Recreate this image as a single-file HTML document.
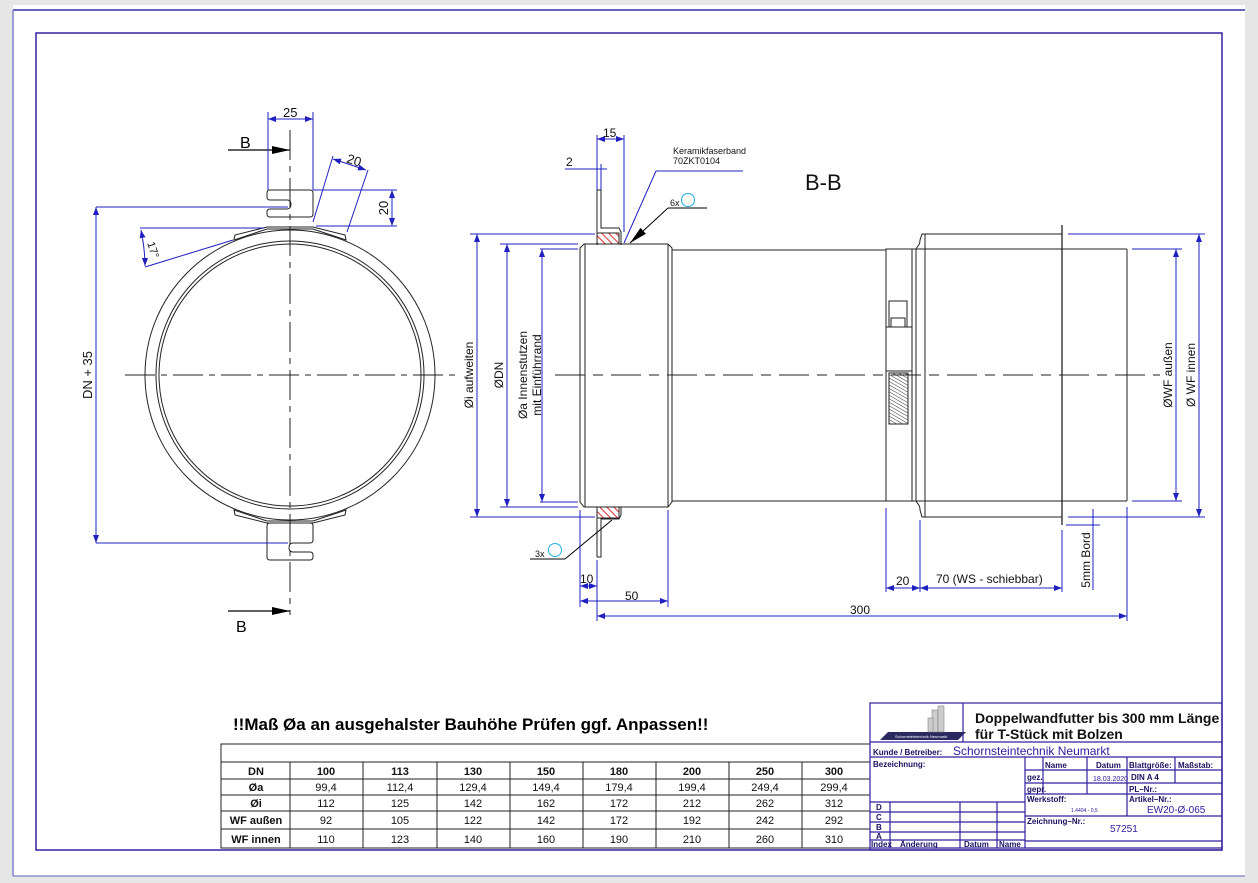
<!DOCTYPE html>
<html><head><meta charset="utf-8"><style>
html,body{margin:0;padding:0;background:#e6e6e6;}
svg{display:block;font-family:"Liberation Sans",Arial,sans-serif;}
</style></head><body>
<svg width="1258" height="883" viewBox="0 0 1258 883" xmlns="http://www.w3.org/2000/svg">
<defs>
<pattern id="hr" width="5" height="5" patternUnits="userSpaceOnUse" patternTransform="rotate(-45)"><rect width="5" height="5" fill="#fff"/><line x1="0" y1="0" x2="0" y2="5" stroke="#e03030" stroke-width="2"/></pattern>
<pattern id="hk" width="3" height="3" patternUnits="userSpaceOnUse" patternTransform="rotate(-60)"><line x1="0" y1="0" x2="0" y2="3" stroke="#333" stroke-width="1"/></pattern>
<marker id="a" markerWidth="8" markerHeight="6" refX="8" refY="3" orient="auto-start-reverse" markerUnits="userSpaceOnUse"><path d="M0,0 L8,3 L0,6z" fill="#2020c0"/></marker>
<marker id="ab" markerWidth="18" markerHeight="8" refX="18" refY="4" orient="auto" markerUnits="userSpaceOnUse"><path d="M0,0 L18,4 L0,8z" fill="#000"/></marker>
</defs>
<rect x="0" y="0" width="1258" height="883" fill="#e6e6e6"/>
<rect x="13" y="5" width="1232" height="871" fill="#fff"/>
<line x1="13" y1="10" x2="1245" y2="10" stroke="#3030a0" stroke-width="1.5"/>
<line x1="13" y1="10" x2="13" y2="876" stroke="#8080d0" stroke-width="1.5"/>
<line x1="13" y1="876" x2="1245" y2="876" stroke="#6060c0" stroke-width="1"/>
<rect x="36" y="33" width="1186" height="817" fill="none" stroke="#3020a0" stroke-width="1.5"/>

<!-- LEFT VIEW -->
<g stroke="#222" fill="none" stroke-width="1">
<circle cx="290" cy="375" r="145"/>
<circle cx="290" cy="375" r="134"/>
<circle cx="290" cy="375" r="131"/>
<path d="M270,190 h40 q3,0 3,3 v21 q0,3 -3,3 h-40 q-3,0 -3,-3 v-2 q0,-3 3,-3 h17 q4,0 4,-5 q0,-4 -4,-4 h-17 q-3,0 -3,-3 v-4 q0,-3 3,-3z" fill="#fff"/>
<path d="M234,240 L267,229 L313,229 L346,240 L345,235 L313,227 L267,227 L235,235z" fill="#fff"/>
<path d="M270,560 h40 q3,0 3,-3 v-2 q0,-3 -3,-3 h-17 q-4,0 -4,-4 q0,-5 4,-5 h17 q3,0 3,-3 v-14 q0,-3 -3,-3 h-40 q-3,0 -3,3 v31 q0,3 3,3z" fill="#fff"/>
<path d="M234,510 L267,521 L313,521 L346,510 L345,515 L313,523 L267,523 L235,515z" fill="#fff"/>
<line x1="125" y1="375" x2="455" y2="375" stroke-dasharray="30,6,6,6"/>
<line x1="290" y1="130" x2="290" y2="615" stroke-dasharray="30,6,6,6"/>
</g>
<g stroke="#000" stroke-width="1.2">
<line x1="228" y1="150" x2="290" y2="150" marker-end="url(#ab)"/>
<line x1="228" y1="611" x2="290" y2="611" marker-end="url(#ab)"/>
</g>
<text x="240" y="148" font-size="16">B</text>
<text x="236" y="632" font-size="16">B</text>
<g stroke="#2020c0" fill="none" stroke-width="1">
<line x1="268" y1="112" x2="268" y2="190"/><line x1="313" y1="112" x2="313" y2="190"/>
<line x1="268" y1="119" x2="313" y2="119" marker-start="url(#a)" marker-end="url(#a)"/>
<line x1="96" y1="207" x2="288" y2="207"/><line x1="96" y1="543" x2="288" y2="543"/>
<line x1="96" y1="207" x2="96" y2="543" marker-start="url(#a)" marker-end="url(#a)"/>
<line x1="313" y1="190" x2="397" y2="190"/><line x1="316" y1="226" x2="397" y2="226"/>
<line x1="392" y1="190" x2="392" y2="226" marker-start="url(#a)" marker-end="url(#a)"/>
<line x1="313" y1="222" x2="333" y2="156"/><line x1="347" y1="232" x2="368" y2="170"/>
<line x1="333" y1="159" x2="366" y2="170" marker-start="url(#a)" marker-end="url(#a)"/>
<line x1="140" y1="228" x2="264" y2="228"/><line x1="145" y1="267" x2="233" y2="240"/>
<path d="M141,230 Q145,250 145,266" marker-start="url(#a)" marker-end="url(#a)"/>
</g>
<g font-size="13" fill="#111">
<text x="283" y="117">25</text>
<text x="347" y="165" transform="rotate(18 355 160)">20</text>
<text x="388" y="208" transform="rotate(-90 388 208)" text-anchor="middle">20</text>
<text x="145" y="246" transform="rotate(72 148 246)" font-size="11">17°</text>
<text x="92" y="375" transform="rotate(-90 92 375)" text-anchor="middle">DN + 35</text>
</g>

<!-- SECTION VIEW -->
<g stroke="#222" fill="none" stroke-width="1">
<path d="M580,248 L584,244 L668,244 L672,248 L672,502 L668,507 L584,507 L580,502z" fill="#fff"/>
<line x1="585" y1="244" x2="585" y2="507"/>
<line x1="668" y1="244" x2="668" y2="507"/>
<line x1="672" y1="250" x2="886" y2="250"/><line x1="672" y1="501" x2="886" y2="501"/>
<rect x="886" y="249" width="30" height="252"/>
<line x1="912" y1="249" x2="912" y2="501"/>
<path d="M916,249 L918,246 Q920,244 920,240 L922,234 L1062,234 M916,501 L918,504 Q920,506 920,510 L922,517 L1062,517"/>
<line x1="925" y1="234" x2="925" y2="517"/>
<line x1="916" y1="249" x2="1127" y2="249"/><line x1="916" y1="501" x2="1127" y2="501"/>
<line x1="1127" y1="249" x2="1127" y2="501"/>
<line x1="1062" y1="225" x2="1062" y2="525" stroke-width="1.3"/>
<rect x="889" y="301" width="18" height="26" fill="#fff"/>
<rect x="891" y="318" width="14" height="9" fill="#fff"/>
<rect x="886" y="327" width="26" height="44" fill="#fff"/>
<rect x="889" y="373" width="19" height="51" fill="url(#hk)"/>
<path d="M597,190 h4 v38 h18 l2,4 v13 M597,190 v55" />
<path d="M597,557 h4 v-38 h18 l2,-4 v-8 M597,557 v-50" />
<line x1="555" y1="375" x2="1160" y2="375" stroke-dasharray="30,8,10,8"/>
</g>
<rect x="597" y="233" width="22" height="11" fill="url(#hr)" stroke="#222"/>
<rect x="597" y="507" width="22" height="11" fill="url(#hr)" stroke="#222"/>
<g stroke="#2020c0" fill="none" stroke-width="1">
<line x1="597" y1="135" x2="597" y2="190"/><line x1="624" y1="135" x2="624" y2="232"/>
<line x1="597" y1="139" x2="624" y2="139" marker-start="url(#a)" marker-end="url(#a)"/>
<line x1="565" y1="169" x2="607" y2="169"/><line x1="601" y1="164" x2="601" y2="190"/>
<line x1="624" y1="243" x2="656" y2="171" /><line x1="656" y1="171" x2="743" y2="171"/>
<line x1="470" y1="234" x2="595" y2="234"/><line x1="470" y1="517" x2="595" y2="517"/>
<line x1="477" y1="234" x2="477" y2="517" marker-start="url(#a)" marker-end="url(#a)"/>
<line x1="500" y1="244" x2="578" y2="244"/><line x1="500" y1="507" x2="578" y2="507"/>
<line x1="507" y1="244" x2="507" y2="507" marker-start="url(#a)" marker-end="url(#a)"/>
<line x1="540" y1="249" x2="578" y2="249"/><line x1="540" y1="502" x2="578" y2="502"/>
<line x1="542" y1="249" x2="542" y2="502" marker-start="url(#a)" marker-end="url(#a)"/>
<line x1="1068" y1="234" x2="1205" y2="234"/><line x1="1068" y1="517" x2="1205" y2="517"/>
<line x1="1199" y1="234" x2="1199" y2="517" marker-start="url(#a)" marker-end="url(#a)"/>
<line x1="1132" y1="249" x2="1182" y2="249"/><line x1="1132" y1="501" x2="1182" y2="501"/>
<line x1="1176" y1="249" x2="1176" y2="501" marker-start="url(#a)" marker-end="url(#a)"/>
<line x1="1066" y1="525" x2="1100" y2="525"/>
<line x1="1093" y1="509" x2="1093" y2="590"/>
<line x1="580" y1="510" x2="580" y2="607"/><line x1="597" y1="560" x2="597" y2="621"/>
<line x1="580" y1="586" x2="597" y2="586" marker-start="url(#a)" marker-end="url(#a)"/>
<line x1="668" y1="510" x2="668" y2="607"/>
<line x1="580" y1="601" x2="668" y2="601" marker-start="url(#a)" marker-end="url(#a)"/>
<line x1="1127" y1="507" x2="1127" y2="621"/>
<line x1="597" y1="616" x2="1127" y2="616" marker-start="url(#a)" marker-end="url(#a)"/>
<line x1="886" y1="508" x2="886" y2="592"/><line x1="920" y1="520" x2="920" y2="592"/><line x1="1062" y1="530" x2="1062" y2="592"/>
<line x1="886" y1="588" x2="920" y2="588" marker-start="url(#a)" marker-end="url(#a)"/>
<line x1="920" y1="588" x2="1062" y2="588" marker-start="url(#a)" marker-end="url(#a)"/>
</g>
<g stroke="#000" fill="none" stroke-width="1">
<line x1="668" y1="208" x2="707" y2="208"/><line x1="668" y1="208" x2="630" y2="243" marker-end="url(#ab)"/>
<line x1="530" y1="559" x2="565" y2="559"/><line x1="565" y1="559" x2="612" y2="520"/>
</g>
<circle cx="688" cy="200" r="6.5" fill="none" stroke="#20b0e0"/>
<circle cx="555" cy="550" r="6.5" fill="none" stroke="#20b0e0"/>
<g font-size="12" fill="#111">
<text x="603" y="137">15</text>
<text x="566" y="166">2</text>
<text x="673" y="154" font-size="9">Keramikfaserband</text>
<text x="673" y="164" font-size="9">70ZKT0104</text>
<text x="670" y="206" font-size="9">6x</text>
<text x="535" y="557" font-size="9">3x</text>
<text x="805" y="190" font-size="22">B-B</text>
<text x="580" y="583">10</text>
<text x="625" y="600">50</text>
<text x="850" y="614">300</text>
<text x="896" y="585">20</text>
<text x="936" y="583">70 (WS - schiebbar)</text>
<text x="1090" y="560" transform="rotate(-90 1090 560)" text-anchor="middle">5mm Bord</text>
<text x="473" y="375" transform="rotate(-90 473 375)" text-anchor="middle">Øi aufweiten</text>
<text x="503" y="375" transform="rotate(-90 503 375)" text-anchor="middle">ØDN</text>
<text x="527" y="375" transform="rotate(-90 527 375)" text-anchor="middle">Øa Innenstutzen</text>
<text x="541" y="375" transform="rotate(-90 541 375)" text-anchor="middle">mit Einführrand</text>
<text x="1172" y="375" transform="rotate(-90 1172 375)" text-anchor="middle">ØWF außen</text>
<text x="1195" y="375" transform="rotate(-90 1195 375)" text-anchor="middle">Ø WF innen</text>
</g>

<!-- TABLE -->
<text x="233" y="730" font-size="17" font-weight="bold">!!Maß Øa an ausgehalster Bauhöhe Prüfen ggf. Anpassen!!</text>
<g stroke="#222" fill="none" stroke-width="1">
<rect x="221" y="744" width="649" height="104"/>
<line x1="221" y1="762" x2="870" y2="762"/><line x1="221" y1="779" x2="870" y2="779"/>
<line x1="221" y1="795" x2="870" y2="795"/><line x1="221" y1="811" x2="870" y2="811"/>
<line x1="221" y1="829" x2="870" y2="829"/>
<line x1="290" y1="762" x2="290" y2="848"/><line x1="363" y1="762" x2="363" y2="848"/>
<line x1="437" y1="762" x2="437" y2="848"/><line x1="510" y1="762" x2="510" y2="848"/>
<line x1="583" y1="762" x2="583" y2="848"/><line x1="656" y1="762" x2="656" y2="848"/>
<line x1="729" y1="762" x2="729" y2="848"/><line x1="802" y1="762" x2="802" y2="848"/>
</g>
<g font-size="11" text-anchor="middle" fill="#111">
<g font-weight="bold"><text x="256" y="775">DN</text><text x="256" y="791">Øa</text><text x="256" y="807">Øi</text><text x="256" y="824">WF außen</text><text x="256" y="843">WF innen</text>
<text x="326" y="775">100</text><text x="400" y="775">113</text><text x="473" y="775">130</text><text x="546" y="775">150</text><text x="619" y="775">180</text><text x="692" y="775">200</text><text x="765" y="775">250</text><text x="834" y="775">300</text></g>
<text x="326" y="791">99,4</text><text x="400" y="791">112,4</text><text x="473" y="791">129,4</text><text x="546" y="791">149,4</text><text x="619" y="791">179,4</text><text x="692" y="791">199,4</text><text x="765" y="791">249,4</text><text x="834" y="791">299,4</text>
<text x="326" y="807">112</text><text x="400" y="807">125</text><text x="473" y="807">142</text><text x="546" y="807">162</text><text x="619" y="807">172</text><text x="692" y="807">212</text><text x="765" y="807">262</text><text x="834" y="807">312</text>
<text x="326" y="824">92</text><text x="400" y="824">105</text><text x="473" y="824">122</text><text x="546" y="824">142</text><text x="619" y="824">172</text><text x="692" y="824">192</text><text x="765" y="824">242</text><text x="834" y="824">292</text>
<text x="326" y="843">110</text><text x="400" y="843">123</text><text x="473" y="843">140</text><text x="546" y="843">160</text><text x="619" y="843">190</text><text x="692" y="843">210</text><text x="765" y="843">260</text><text x="834" y="843">310</text>
</g>

<!-- TITLE BLOCK -->
<g stroke="#3020a0" fill="none" stroke-width="1.2">
<rect x="870" y="703" width="352" height="147"/>
<line x1="963" y1="703" x2="963" y2="742"/>
<line x1="870" y1="742" x2="1222" y2="742"/><line x1="870" y1="757" x2="1222" y2="757"/>
<line x1="1025" y1="757" x2="1025" y2="848"/>
<line x1="1025" y1="770" x2="1222" y2="770"/>
<line x1="1025" y1="783" x2="1222" y2="783"/>
<line x1="1025" y1="794" x2="1222" y2="794"/>
<line x1="1043" y1="757" x2="1043" y2="794"/><line x1="1087" y1="757" x2="1087" y2="794"/>
<line x1="1127" y1="757" x2="1127" y2="816"/><line x1="1175" y1="757" x2="1175" y2="783"/>
<line x1="1025" y1="816" x2="1222" y2="816"/><line x1="1025" y1="841" x2="1222" y2="841"/>
<line x1="870" y1="802" x2="1025" y2="802"/><line x1="870" y1="812" x2="1025" y2="812"/>
<line x1="870" y1="822" x2="1025" y2="822"/><line x1="870" y1="832" x2="1025" y2="832"/>
<line x1="870" y1="840" x2="1025" y2="840"/>
<line x1="890" y1="802" x2="890" y2="848"/><line x1="960" y1="802" x2="960" y2="848"/><line x1="997" y1="802" x2="997" y2="848"/>
<line x1="870" y1="848" x2="1222" y2="848"/>
</g>
<path d="M880,740 L958,740 L966,732 L888,732z" fill="#2a2a60"/>
<g fill="#ccc" stroke="#777" stroke-width="0.5"><rect x="932" y="710" width="6" height="22"/><rect x="938" y="706" width="6" height="26"/><rect x="928" y="718" width="5" height="14"/></g>
<text x="895" y="738" font-size="4" fill="#fff">Schornsteintechnik Neumarkt</text>
<g fill="#111">
<text x="975" y="723" font-size="14" font-weight="bold">Doppelwandfutter bis 300 mm Länge</text>
<text x="975" y="739" font-size="14" font-weight="bold">für T-Stück mit Bolzen</text>
<g font-size="8" font-weight="bold" fill="#1a1060">
<text x="873" y="755">Kunde / Betreiber:</text>
<text x="873" y="767">Bezeichnung:</text>
<text x="1045" y="768">Name</text><text x="1096" y="768">Datum</text><text x="1129" y="768">Blattgröße:</text><text x="1178" y="768">Maßstab:</text>
<text x="1027" y="780">gez.</text><text x="1027" y="792">gepr.</text>
<text x="1129" y="792">PL–Nr.:</text>
<text x="1027" y="802">Werkstoff:</text><text x="1129" y="802">Artikel–Nr.:</text>
<text x="1027" y="824">Zeichnung–Nr.:</text>
<text x="876" y="810">D</text><text x="876" y="820">C</text><text x="876" y="830">B</text><text x="876" y="839">A</text>
<text x="871" y="847">Index</text><text x="900" y="847">Änderung</text><text x="964" y="847">Datum</text><text x="999" y="847">Name</text>
<text x="1131" y="780">DIN A 4</text>
</g>
<text x="953" y="755" font-size="12" fill="#3020a0">Schornsteintechnik Neumarkt</text>
<text x="1093" y="781" font-size="7" fill="#3020a0">18.03.2020</text>
<text x="1071" y="812" font-size="5" fill="#3020a0">1.4404 - 0,5</text>
<text x="1147" y="813" font-size="10" fill="#3020a0">EW20-Ø-065</text>
<text x="1110" y="832" font-size="10" fill="#3020a0">57251</text>
</g>
</svg>
</body></html>
